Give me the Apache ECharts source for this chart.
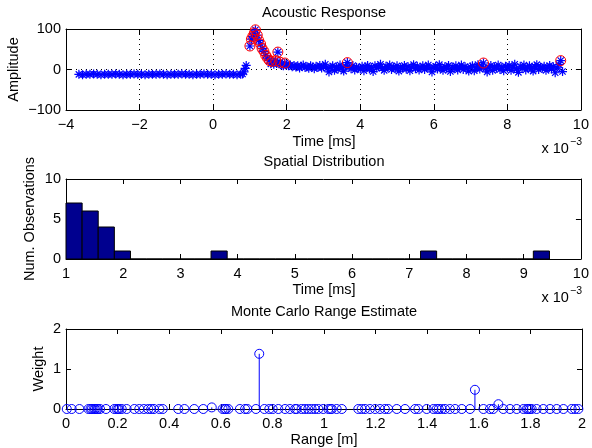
<!DOCTYPE html>
<html>
<head>
<meta charset="utf-8">
<script src="https://cdn.jsdelivr.net/npm/echarts@6/dist/echarts.min.js"></script>
<style>
html,body{margin:0;padding:0;background:#fff;}
#c{width:592px;height:448px;}
</style>
</head>
<body>
<div id="c"></div>
<script>
// ---------- DATA ----------
// Acoustic response samples (time in ms x 1e-3 axis units, amplitude)
const respTime = [
-3.65,-3.55,-3.45,-3.35,-3.25,-3.15,-3.05,-2.95,-2.85,-2.75,-2.65,-2.55,-2.45,-2.35,-2.25,-2.15,-2.05,-1.95,-1.85,-1.75,
-1.65,-1.55,-1.45,-1.35,-1.25,-1.15,-1.05,-0.95,-0.85,-0.75,-0.65,-0.55,-0.45,-0.35,-0.25,-0.15,-0.05,0.05,0.15,0.25,
0.35,0.45,0.55,0.65,0.75,
0.80,0.84,0.87,0.90,1.00,1.04,1.08,1.12,1.15,1.20,1.24,1.29,1.33,1.38,1.43,1.48,1.53,1.57,1.60,1.65,1.70,1.73,1.76,1.79,1.82,1.87,1.91,1.95,
2.00,2.05,2.10,2.15,2.20,2.25,2.30,2.35,2.40,2.45,2.50,2.55,2.60,2.65,2.70,2.75,2.80,2.85,2.90,2.95,
3.00,3.05,3.10,3.15,3.20,3.25,3.30,3.35,3.40,3.45,3.50,3.55,3.60,3.65,3.70,3.75,3.80,3.85,3.90,3.95,
4.00,4.05,4.10,4.15,4.20,4.25,4.30,4.35,4.40,4.45,4.50,4.55,4.60,4.65,4.70,4.75,4.80,4.85,4.90,4.95,
5.00,5.05,5.10,5.15,5.20,5.25,5.30,5.35,5.40,5.45,5.50,5.55,5.60,5.65,5.70,5.75,5.80,5.85,5.90,5.95,
6.00,6.05,6.10,6.15,6.20,6.25,6.30,6.35,6.40,6.45,6.50,6.55,6.60,6.65,6.70,6.75,6.80,6.85,6.90,6.95,
7.00,7.05,7.10,7.15,7.20,7.25,7.30,7.35,7.40,7.45,7.50,7.55,7.60,7.65,7.70,7.75,7.80,7.85,7.90,7.95,
8.00,8.05,8.10,8.15,8.20,8.25,8.30,8.35,8.40,8.45,8.50,8.55,8.60,8.65,8.70,8.75,8.80,8.85,8.90,8.95,
9.00,9.05,9.10,9.15,9.20,9.25,9.30,9.35,9.40,9.45,9.50
];
const respAmp = [
-12,-13,-12,-12,-11,-12,-13,-12,-12,-12,-11,-12,-13,-12,-12,-11,-12,-12,-13,-12,
-12,-12,-11,-12,-13,-12,-12,-12,-11,-12,-12,-13,-12,-12,-11,-12,-12,-13,-12,-12,
-11,-12,-12,-13,-12,
-11,-6,3,10,58,75,82,90,98,85,72,63,52,45,35,28,22,14,20,13,22,15,43,14,18,11,9,16,
12,9,11,7,10,6,9,4,8,11,5,7,3,9,6,2,8,5,10,4,
7,13,3,-6,5,9,-2,6,1,11,4,-4,8,17,6,2,10,-1,5,3,
2,8,-3,6,10,1,5,-5,9,4,7,13,3,-2,8,5,11,0,6,2,
9,-4,5,3,10,1,7,-3,6,12,2,8,-1,4,9,0,6,11,3,-6,
5,8,1,12,4,-2,7,3,10,-5,6,2,9,-1,5,11,0,7,3,-4,
6,9,-3,4,12,1,8,16,2,-6,5,10,-2,7,3,11,0,6,-3,8,
4,10,-2,6,13,1,-7,8,3,11,-1,5,9,2,-4,7,12,0,6,3,
8,-2,5,10,1,7,-8,4,12,22,-5
];
// Detected peaks (red circles)
const peakTime = [1.00,1.04,1.08,1.12,1.15,1.20,1.24,1.29,1.33,1.38,1.43,1.48,1.53,1.60,1.70,1.76,1.82,1.95,3.65,7.35,9.45];
const peakAmp  = [58,75,82,90,98,85,72,63,52,45,35,28,22,20,22,43,18,16,17,16,22];
// Histogram of peak times
const binEdges = [1.000,1.282,1.563,1.845,2.127,2.408,2.690,2.972,3.253,3.535,3.817,4.098,4.380,4.662,4.943,
                  5.225,5.507,5.788,6.070,6.352,6.633,6.915,7.197,7.478,7.760,8.042,8.323,8.605,8.887,9.168,9.450];
const binCounts = [7,6,4,1,0,0,0,0,0,1,0,0,0,0,0,0,0,0,0,0,0,0,1,0,0,0,0,0,0,1];
// Monte Carlo range estimate (stem plot)
const rangeX = [0.003,0.022,0.052,0.087,0.095,0.100,0.107,0.112,0.118,0.123,0.132,0.155,0.187,0.196,0.202,0.207,0.216,0.235,0.265,0.284,
0.302,0.319,0.330,0.341,0.362,0.375,0.435,0.459,0.497,0.532,0.565,0.607,0.615,0.620,0.629,0.674,0.694,0.703,0.736,0.749,
0.769,0.788,0.801,0.823,0.849,0.868,0.888,0.894,0.913,0.926,0.939,0.952,0.965,0.978,0.997,1.017,1.025,1.030,1.049,1.069,
1.133,1.146,1.159,1.178,1.198,1.217,1.236,1.249,1.282,1.314,1.353,1.366,1.398,1.424,1.437,1.445,1.456,1.469,1.488,1.508,
1.534,1.566,1.585,1.618,1.643,1.656,1.676,1.695,1.721,1.747,1.773,1.786,1.792,1.798,1.805,1.824,1.850,1.876,1.902,1.928,
1.960,1.973,1.986];
const rangeW = [0,0,0,0,0,0,0,0,0,0,0,0,0,0,0,0,0,0,0,0,
0,0,0,0,0,0,0,0,0,0,0.04,0,0,0,0,0,0,0,0,1.38,
0,0,0,0,0,0,0,0,0,0,0,0,0,0,0,0,0,0,0,0,
0,0,0,0,0,0,0,0,0,0,0,0,0,0,0,0,0,0,0,0,
0,0,0.48,0,0,0,0.12,0,0,0,0,0,0,0,0,0,0,0,0,0,
0,0,0];
// ---------- CHART ----------
const FONT = 'Liberation Sans, Arial, Helvetica, sans-serif';
const FS = 14.5;
const chart = echarts.init(document.getElementById('c'), null, {renderer:'canvas'});

function minusFmt(v){ return String(v).replace('-', '\u2212'); }
function mkX(grid, min, max, interval, bottom, dotted){
  return {
    type:'value', gridIndex:grid, min:min, max:max, interval:interval,
    position: bottom ? 'bottom' : 'top',
    axisLine:{show:true, onZero:false, lineStyle:{color:'#000', width:1}},
    axisTick:{show:true, inside:true, length:5, lineStyle:{color:'#000', width:1}},
    axisLabel:{show:bottom, margin:7, color:'#000', fontFamily:FONT, fontSize:FS, formatter:minusFmt,
               showMinLabel:true, showMaxLabel:true},
    splitLine:{show:!!dotted, lineStyle:{color:'#000', width:1, type:[1,4]}}
  };
}
function mkY(grid, min, max, interval, left, dotted){
  return {
    type:'value', gridIndex:grid, min:min, max:max, interval:interval,
    position: left ? 'left' : 'right',
    axisLine:{show:true, onZero:false, lineStyle:{color:'#000', width:1}},
    axisTick:{show:true, inside:true, length:5, lineStyle:{color:'#000', width:1}},
    axisLabel:{show:left, margin:5, color:'#000', fontFamily:FONT, fontSize:FS, formatter:minusFmt,
               showMinLabel:true, showMaxLabel:true},
    splitLine:{show:!!dotted, lineStyle:{color:'#000', width:1, type:[1,4]}}
  };
}

const asterisk = 'path://M0,5L10,5M5,0L5,10M1.5,1.5L8.5,8.5M1.5,8.5L8.5,1.5';

function txt(text, x, y, size, rot, align){
  return {type:'text', x:x, y:y, rotation: rot || 0, silent:true,
    style:{text:text, fill:'#000', font: size + 'px ' + FONT,
      textAlign: align || 'center', align: align || 'center',
      textVerticalAlign:'middle', verticalAlign:'middle'}};
}

const option = {
  animation:false,
  backgroundColor:'#fff',
  grid:[
    {left:66, right:10, top:29, height:81},
    {left:66, right:10, top:179, height:80},
    {left:66, right:10, top:329, height:80}
  ],
  xAxis:[
    mkX(0,-4,10,2,true,true), mkX(0,-4,10,2,false,false),
    mkX(1,1,10,1,true,false), mkX(1,1,10,1,false,false),
    mkX(2,0,2,0.2,true,false), mkX(2,0,2,0.2,false,false)
  ],
  yAxis:[
    mkY(0,-100,100,100,true,true), mkY(0,-100,100,100,false,false),
    mkY(1,0,10,5,true,false), mkY(1,0,10,5,false,false),
    mkY(2,0,2,1,true,false), mkY(2,0,2,1,false,false)
  ],
  series:[
    {
      type:'scatter', xAxisIndex:0, yAxisIndex:0, clip:false,
      symbol:asterisk, symbolSize:9,
      itemStyle:{color:'transparent', borderColor:'#0000ff', borderWidth:1.2, opacity:1},
      data: respTime.map(function(t,i){ return [t, respAmp[i]]; }),
      silent:true, z:2
    },
    {
      type:'scatter', xAxisIndex:0, yAxisIndex:0, clip:false,
      symbol:'circle', symbolSize:10,
      itemStyle:{color:'transparent', borderColor:'#ff0000', borderWidth:1, opacity:1},
      data: peakTime.map(function(t,i){ return [t, peakAmp[i]]; }),
      silent:true, z:3
    },
    {
      type:'custom', xAxisIndex:2, yAxisIndex:2, clip:false, silent:true,
      encode:{x:[0,1], y:2},
      data: binCounts.map(function(c,i){ return [binEdges[i], binEdges[i+1], c]; }),
      renderItem:function(params, api){
        const p0 = api.coord([api.value(0), api.value(2)]);
        const p1 = api.coord([api.value(1), 0]);
        return {type:'rect', shape:{x:p0[0], y:p0[1], width:p1[0]-p0[0], height:p1[1]-p0[1]},
                style:{fill:'#00008f', stroke:'#000', lineWidth:1}};
      }
    },
    {
      type:'custom', xAxisIndex:4, yAxisIndex:4, clip:false, silent:true,
      encode:{x:0, y:1},
      data: rangeX.map(function(x,i){ return [x, rangeW[i]]; }),
      renderItem:function(params, api){
        const p0 = api.coord([api.value(0), 0]);
        const p1 = api.coord([api.value(0), api.value(1)]);
        return {type:'line', shape:{x1:p0[0], y1:p0[1], x2:p1[0], y2:p1[1]},
                style:{stroke:'#0000ff', lineWidth:1}};
      }
    },
    {
      type:'scatter', xAxisIndex:4, yAxisIndex:4, clip:false,
      symbol:'circle', symbolSize:9,
      itemStyle:{color:'transparent', borderColor:'#0000ff', borderWidth:1, opacity:1},
      data: rangeX.map(function(x,i){ return [x, rangeW[i]]; }),
      silent:true, z:3
    }
  ],
  graphic:[
    txt('Acoustic Response', 324, 13, FS),
    txt('Time [ms]', 324, 141.5, FS),
    txt('x 10', 541.5, 148.5, FS, 0, 'left'),
    txt('\u22123', 570, 142, 10.5, 0, 'left'),
    txt('Amplitude', 14, 69.5, FS, Math.PI/2),
    txt('Spatial Distribution', 324, 162, FS),
    txt('Time [ms]', 324, 290, FS),
    txt('x 10', 541.5, 297.5, FS, 0, 'left'),
    txt('\u22123', 570, 291, 10.5, 0, 'left'),
    txt('Num. Observations', 30, 219, FS, Math.PI/2),
    txt('Monte Carlo Range Estimate', 324, 312, FS),
    txt('Range [m]', 324, 440, FS),
    txt('Weight', 38.5, 369, FS, Math.PI/2)
  ]
};
chart.setOption(option);
</script>
</body>
</html>
